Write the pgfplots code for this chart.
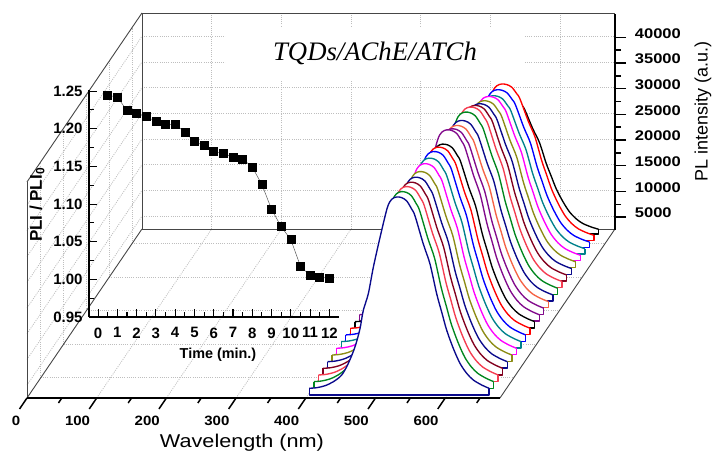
\documentclass[border=0pt]{standalone}
\usepackage{fontspec}
\setmainfont{Liberation Sans}
\newfontfamily\titlefont{Liberation Serif}
\usepackage{pgfplots}
\usepackage{pgfplotstable}
\pgfplotsset{compat=1.18}
\definecolor{cnavy}{RGB}{10,10,140}
\definecolor{cgreen}{RGB}{0,135,30}
\definecolor{ccoral}{RGB}{245,60,80}
\definecolor{cmaroon}{RGB}{130,0,30}
\definecolor{colive}{RGB}{140,140,20}
\definecolor{cmag}{RGB}{255,0,255}
\definecolor{cteal}{RGB}{0,130,140}
\definecolor{cblue}{RGB}{0,0,255}
\definecolor{cred}{RGB}{255,0,0}
\definecolor{cpurple}{RGB}{130,10,140}
\definecolor{corange}{RGB}{245,100,70}
\definecolor{gridc}{RGB}{190,190,190}
\definecolor{framec}{RGB}{70,70,70}
% spectrum shape: wavelength (nm), fraction of the peak above the floor, spare column
\pgfplotstableread{
w s o
402.0 0 0
402.0 .0337 0
412.7 .0367 0
424.6 .0467 0
436.5 .0668 0
448.5 .1005 0
458.0 .1593 0
467.6 .2427 0
474.8 .3352 0
479.5 .4271 0
486.7 .5111 0
493.9 .6447 0
503.5 .7955 0
514.0 .9462 0
520.3 .9884 0
527.4 1 0
534.6 .9965 0
541.8 .9799 0
549.0 .9382 0
553.7 .9045 0
565.6 .7623 0
575.2 .6618 0
584.8 .5111 0
592.0 .4186 0
599.2 .3266 0
608.7 .2347 0
618.3 .1593 0
627.9 .1090 0
637.4 .0754 0
649.4 .0503 0
659.9 .0337 0
659.9 0 0
402.0 0 0
}\shapetab
% the straight closing edge of each spectrum
\pgfplotstableread{
w s o
402.0 .0337 0
402.0 0 0
659.9 0 0
659.9 .0337 0
}\basetab
\newcommand\gl[6]{\addplot3[gridc,line width=0.8pt,dash pattern=on 1pt off 1.2pt] coordinates {(#1,#2,#3) (#4,#5,#6)};}
\newcommand\fl[6]{\addplot3[framec,line width=0.9pt] coordinates {(#1,#2,#3) (#4,#5,#6)};}
\newcommand\tk[3]{\addplot3[black,line width=1.5pt] coordinates {(#1,#2,2500) (#1,#3,2500)};}
\newcommand\wave[3]{%
\addplot3[fill=white,draw=none] table[x=w,y expr=#1,z expr={2500+\thisrow{s}*#3}]{\shapetab};
\addplot3[draw=#2,line width=1.35pt,line join=round] table[x=w,y expr=#1,z expr={2500+\thisrow{s}*#3}]{\basetab};
\addplot3[draw=#2,line width=1.35pt,line join=round,smooth,tension=0.5,skip coords between index={0}{1},skip coords between index={31}{33}] table[x=w,y expr=#1,z expr={2500+\thisrow{s}*#3}]{\shapetab};}
\begin{document}
\begin{tikzpicture}
\path[use as bounding box] (0pt,0pt) rectangle (714pt,452pt);
% ---- the 3D box: grids, frame, spectra
\begin{axis}[
  at={(27pt,54pt)},anchor=south west,
  x={(0.697pt,0pt)},y={(4.565pt,6.71pt)},z={(0pt,0.00514pt)},
  xmin=0,xmax=678.6,ymin=-0.453,ymax=24.73,zmin=2500,zmax=44525,
  hide axis,clip=false]
\gl{100}{24.73}{2500}{100}{24.73}{44525}
\gl{200}{24.73}{2500}{200}{24.73}{44525}
\gl{300}{24.73}{2500}{300}{24.73}{44525}
\gl{400}{24.73}{2500}{400}{24.73}{44525}
\gl{500}{24.73}{2500}{500}{24.73}{44525}
\gl{600}{24.73}{2500}{600}{24.73}{44525}
\gl{0}{24.73}{5000}{678.6}{24.73}{5000}
\gl{0}{24.73}{10000}{678.6}{24.73}{10000}
\gl{0}{24.73}{15000}{678.6}{24.73}{15000}
\gl{0}{24.73}{20000}{678.6}{24.73}{20000}
\gl{0}{24.73}{25000}{678.6}{24.73}{25000}
\gl{0}{24.73}{30000}{678.6}{24.73}{30000}
\gl{0}{24.73}{35000}{678.6}{24.73}{35000}
\gl{0}{24.73}{40000}{678.6}{24.73}{40000}
\gl{100}{-0.453}{2500}{100}{24.73}{2500}
\gl{200}{-0.453}{2500}{200}{24.73}{2500}
\gl{300}{-0.453}{2500}{300}{24.73}{2500}
\gl{400}{-0.453}{2500}{400}{24.73}{2500}
\gl{500}{-0.453}{2500}{500}{24.73}{2500}
\gl{600}{-0.453}{2500}{600}{24.73}{2500}
\gl{0}{2.55}{2500}{678.6}{2.55}{2500}
\gl{0}{7.55}{2500}{678.6}{7.55}{2500}
\gl{0}{12.55}{2500}{678.6}{12.55}{2500}
\gl{0}{17.55}{2500}{678.6}{17.55}{2500}
\gl{0}{22.55}{2500}{678.6}{22.55}{2500}
\gl{0}{-0.453}{5000}{0}{24.73}{5000}
\gl{0}{-0.453}{10000}{0}{24.73}{10000}
\gl{0}{-0.453}{15000}{0}{24.73}{15000}
\gl{0}{-0.453}{20000}{0}{24.73}{20000}
\gl{0}{-0.453}{25000}{0}{24.73}{25000}
\gl{0}{-0.453}{30000}{0}{24.73}{30000}
\gl{0}{-0.453}{35000}{0}{24.73}{35000}
\gl{0}{-0.453}{40000}{0}{24.73}{40000}
\gl{0}{2.55}{2500}{0}{2.55}{44525}
\gl{0}{7.55}{2500}{0}{7.55}{44525}
\gl{0}{12.55}{2500}{0}{12.55}{44525}
\gl{0}{17.55}{2500}{0}{17.55}{44525}
\gl{0}{22.55}{2500}{0}{22.55}{44525}
\fl{0}{24.73}{2500}{0}{24.73}{44525}
\fl{0}{24.73}{44525}{678.6}{24.73}{44525}
\fl{0}{24.73}{2500}{678.6}{24.73}{2500}
\fl{0}{-0.453}{2500}{0}{24.73}{2500}
\fl{0}{-0.453}{44525}{0}{24.73}{44525}
\fl{0}{-0.453}{2500}{0}{-0.453}{44525}
\fl{678.6}{-0.453}{2500}{678.6}{24.73}{2500}
\tk{0}{-0.453}{-2.09}
\tk{100}{-0.453}{-2.09}
\tk{200}{-0.453}{-2.09}
\tk{300}{-0.453}{-2.09}
\tk{400}{-0.453}{-2.09}
\tk{500}{-0.453}{-2.09}
\tk{600}{-0.453}{-2.09}
\tk{50}{-0.453}{-1.2}
\tk{150}{-0.453}{-1.2}
\tk{250}{-0.453}{-1.2}
\tk{350}{-0.453}{-1.2}
\tk{450}{-0.453}{-1.2}
\tk{550}{-0.453}{-1.2}
\tk{650}{-0.453}{-1.2}
\wave{24}{black}{26800}
\wave{23}{cred}{30470}
\wave{22}{cblue}{30660}
\wave{21}{cteal}{30800}
\wave{20}{cmag}{31960}
\wave{19}{colive}{32430}
\wave{18}{cnavy}{33150}
\wave{17}{cmaroon}{34120}
\wave{16}{ccoral}{35120}
\wave{15}{cgreen}{35450}
\wave{14}{cnavy}{35120}
\wave{13}{corange}{35450}
\wave{12}{cpurple}{36110}
\wave{11}{cpurple}{37220}
\wave{10}{black}{35740}
\wave{9}{cred}{36460}
\wave{8}{cblue}{36910}
\wave{7}{cteal}{36930}
\wave{6}{cmag}{37160}
\wave{5}{colive}{36930}
\wave{4}{cnavy}{37140}
\wave{3}{cmaroon}{37470}
\wave{2}{ccoral}{37920}
\wave{1}{cgreen}{38250}
\wave{0}{cnavy}{38520}
\end{axis}
% ---- title on its white patch
\node[fill=white,minimum width=298pt,minimum height=53pt,inner sep=0pt,font={\titlefont\itshape\fontsize{26.7}{30}\selectfont}] at (375pt,398.5pt) {TQDs/AChE/ATCh};
% ---- wavelength axis
\begin{axis}[
  at={(27pt,54pt)},anchor=south west,scale only axis,width=473pt,height=10pt,
  xmin=0,xmax=678.6,ymin=0,ymax=1,
  axis x line*=bottom,axis y line=none,
  axis line style={black,line width=2pt},
  xtick={0,100,...,600},major tick length=0pt,
  xtick style={draw=none},
  xticklabel style={font=\fontsize{13.5}{14}\selectfont\bfseries,xscale=1.11,anchor=north east,xshift=-2.5pt,yshift=-15pt,/pgf/number format/assume math mode=true},
  xlabel={Wavelength (nm)},
  xlabel style={font=\fontsize{18.5}{21}\selectfont,xscale=1.17,at={(axis description cs:0.4545,0)},anchor=center,yshift=-45pt}]
\end{axis}
% ---- intensity axis on the back right edge
\begin{axis}[
  at={(605pt,222pt)},anchor=south west,scale only axis,width=10pt,height=216pt,
  xmin=0,xmax=1,ymin=2500,ymax=44525,
  axis y line*=right,axis x line=none,
  axis line style={black,line width=2pt},
  ytick={5000,10000,...,40000},minor y tick num=1,
  scaled y ticks=false,
  tick align=outside,major tick length=11pt,minor tick length=6pt,
  tick style={black,line width=1.4pt},
  /pgf/number format/set thousands separator={},
  yticklabel style={font=\fontsize{14}{15}\selectfont\bfseries,xscale=1.18,anchor=west,xshift=4pt,yshift=4pt,/pgf/number format/assume math mode=true},
  ylabel={PL intensity (a.u.)},
  ylabel style={font=\fontsize{18}{20}\selectfont,at={(axis description cs:9.8,0.548)},anchor=center}]
\end{axis}
% ---- inset: PL ratio against time
\begin{axis}[
  at={(89pt,135pt)},anchor=south west,scale only axis,width=250pt,height=227pt,
  xmin=-0.47,xmax=12.5,ymin=0.95,ymax=1.2515,
  axis x line*=bottom,axis y line*=left,
  axis line style={black,line width=1.3pt},
  xtick={0,1,...,12},ytick={0.95,1.00,...,1.25},
  minor x tick num=1,minor y tick num=1,
  tick align=inside,major tick length=8pt,minor tick length=4.5pt,
  tick style={black,line width=1.1pt},
  clip=false,
  /pgf/number format/fixed,/pgf/number format/fixed zerofill,
  yticklabel style={/pgf/number format/precision=2,/pgf/number format/assume math mode=true,font=\fontsize{15}{16}\selectfont\bfseries,xshift=-3pt},
  xticklabel style={/pgf/number format/precision=0,/pgf/number format/assume math mode=true,font=\fontsize{15}{16}\selectfont\bfseries,yshift=-7pt},
  xlabel={Time (min.)},
  xlabel style={font=\fontsize{14.4}{16}\selectfont\bfseries,at={(axis description cs:0.516,0)},anchor=center,yshift=-38pt},
  ylabel={PLI / PLI\raisebox{-2.5pt}{\fontsize{12}{12}\selectfont 0}},
  ylabel style={font=\fontsize{17}{18}\selectfont\bfseries,at={(axis description cs:-0.208,0.493)},anchor=center}]
\addplot[gray!70!black,line width=0.5pt,mark=square*,mark size=4pt,mark options={black,solid}] coordinates {
(0.5,1.2447)(1.0,1.2420)(1.5,1.2244)(2.0,1.2204)(2.5,1.2160)(3.0,1.2100)
(3.5,1.2060)(4.0,1.2060)(4.5,1.1956)(5.0,1.1830)(5.5,1.1775)(6.0,1.1695)
(6.5,1.1680)(7.0,1.1616)(7.5,1.1600)(8.0,1.1490)(8.5,1.1260)(9.0,1.0930)
(9.5,1.0700)(10.0,1.0528)(10.5,1.0175)(11.0,1.0050)(11.5,1.0033)(12.0,1.0010)};
\end{axis}
\end{tikzpicture}
\end{document}
